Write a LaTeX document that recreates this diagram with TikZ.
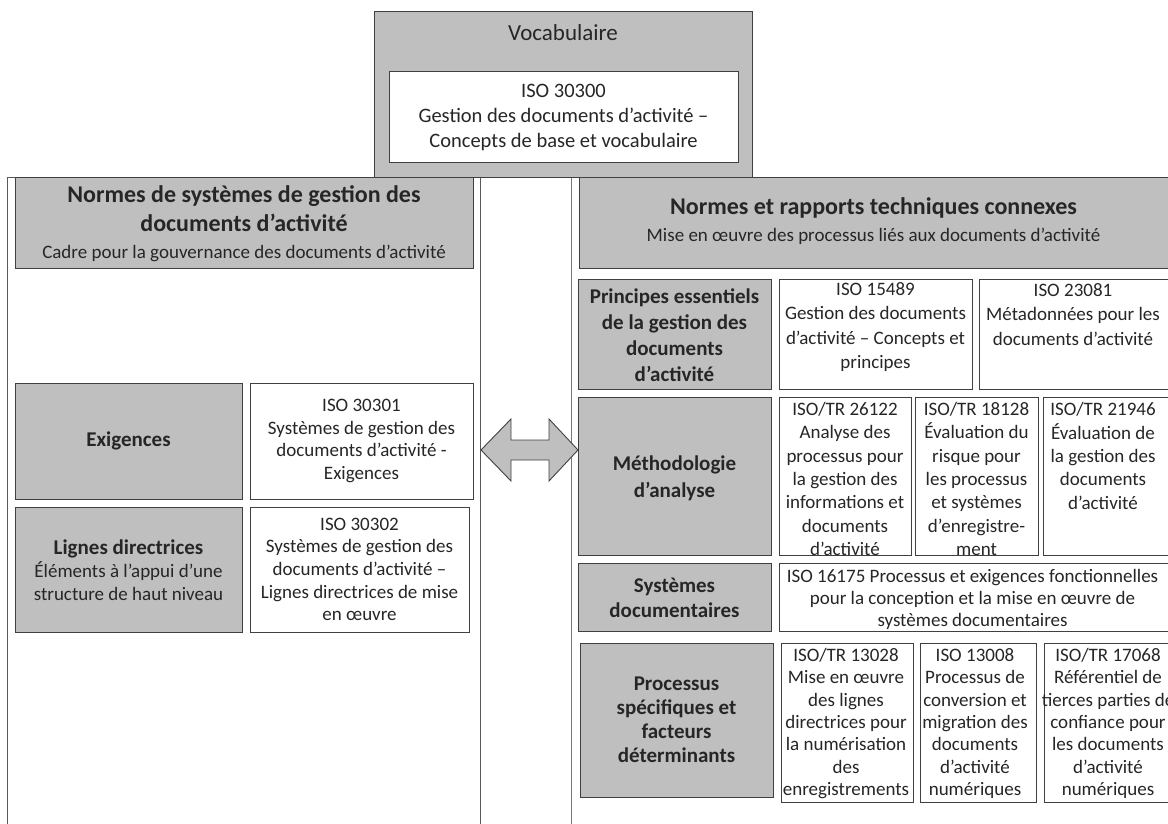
\documentclass[tikz,border=0pt]{standalone}
\usepackage{fontspec}
\setmainfont{Carlito}
\definecolor{boxgray}{RGB}{191,191,191}
\definecolor{linegray}{RGB}{64,64,64}
\definecolor{panelgray}{RGB}{120,120,120}
\tikzset{
  graybox/.style={fill=boxgray, draw=linegray, line width=0.9pt},
  whitebox/.style={fill=white, draw=linegray, line width=0.9pt},
  panel/.style={draw=panelgray, line width=0.9pt},
  bodytxt/.style={align=center, inner sep=0pt, text=black!85, font=\fontsize{19}{24}\selectfont},
  tighttxt/.style={bodytxt, font=\fontsize{19}{22.7}\selectfont},
  labeltxt/.style={align=center, inner sep=0pt, text=black!85, font=\bfseries\fontsize{21}{24}\selectfont},
  titletxt/.style={align=center, inner sep=0pt, text=black!85, font=\bfseries\fontsize{24}{28.7}\selectfont},
}
\begin{document}
\begin{tikzpicture}[x=1pt,y=-1pt]
  \useasboundingbox (0,0) rectangle (1168,824);
  \clip (0,0) rectangle (1168,824);
  % two panels
  \draw [panel, draw=black!65] (7.5,830) -- (7.5,177) -- (480,177) -- (480,830);
  \draw [panel] (571,830) -- (571,177) -- (1180,177);
  % vocabulaire
  \draw [graybox] (374,11) rectangle (752,177);
  \node [bodytxt, font=\fontsize{23}{26}\selectfont] (vocab) at (563,33) {Vocabulaire};
  \draw [whitebox] (389,71) rectangle (738,162);
  \node [bodytxt, font=\fontsize{20.5}{25}\selectfont] (iso30300) at (563.5,118)
    {ISO 30300\\Gestion des documents d’activité –\\Concepts de base et vocabulaire};
  % left panel
  \draw [graybox] (15,177) rectangle (473,268);
  \node [titletxt] (lefttitle) at (244,208.5) {Normes de systèmes de gestion des\\documents d’activité};
  \node [bodytxt] (leftsub) at (244,253) {Cadre pour la gouvernance des documents d’activité};
  \draw [graybox] (15,383) rectangle (242,499);
  \node [labeltxt] (exig) at (128.5,441) {Exigences};
  \draw [whitebox] (250,383) rectangle (473,499);
  \node [tighttxt] (iso30301) at (361.5,441)
    {ISO 30301\\Systèmes de gestion des\\documents d’activité -\\Exigences};
  \draw [graybox] (15,507) rectangle (242,632);
  \node [tighttxt] (lignes) at (128.5,570)
    {{\bfseries\fontsize{21}{23}\selectfont Lignes directrices}\\Éléments à l’appui d’une\\structure de haut niveau};
  \draw [whitebox] (250,507) rectangle (469,632);
  \node [tighttxt] (iso30302) at (359.5,569.5)
    {ISO 30302\\Systèmes de gestion des\\documents d’activité –\\Lignes directrices de mise\\en œuvre};
  % double arrow
  \draw [graybox] (481,450) -- (511,419) -- (511,440) -- (549,440) -- (549,419) -- (578,450)
    -- (549,481) -- (549,460) -- (511,460) -- (511,481) -- cycle;
  % right panel
  \draw [graybox] (579,177) rectangle (1170,268);
  \node [titletxt] (righttitle) at (873.5,208) {Normes et rapports techniques connexes};
  \node [bodytxt] (rightsub) at (873.5,236) {Mise en œuvre des processus liés aux documents d’activité};
  \draw [graybox] (578,279) rectangle (771,389);
  \node [labeltxt, font=\bfseries\fontsize{21}{26}\selectfont] (principes) at (674.5,335)
    {Principes essentiels\\de la gestion des\\documents\\d’activité};
  \draw [whitebox] (779,279) rectangle (972,389);
  \node [bodytxt, font=\fontsize{19}{24.5}\selectfont] (iso15489) at (875.5,327)
    {ISO 15489\\Gestion des documents\\d’activité – Concepts et\\principes};
  \draw [whitebox] (979,279) rectangle (1170,389);
  \node [bodytxt, font=\fontsize{19}{24.5}\selectfont] (iso23081) at (1073,314.5)
    {ISO 23081\\Métadonnées pour les\\documents d’activité};
  \draw [graybox] (578,397) rectangle (771,555);
  \node [labeltxt, font=\bfseries\fontsize{21}{27}\selectfont] (methodo) at (674.5,478) {Méthodologie\\d’analyse};
  \draw [whitebox] (779,397) rectangle (911,555);
  \node [bodytxt, font=\fontsize{19}{23.4}\selectfont] (iso26122) at (845,479)
    {ISO/TR 26122\\Analyse des\\processus pour\\la gestion des\\informations et\\documents\\d’activité};
  \draw [whitebox] (915,397) rectangle (1038,555);
  \node [bodytxt, font=\fontsize{19}{23.4}\selectfont] (iso18128) at (976.5,479)
    {ISO/TR 18128\\Évaluation du\\risque pour\\les processus\\et systèmes\\d’enregistre-\\ment};
  \draw [whitebox] (1043,397) rectangle (1170,555);
  \node [bodytxt, font=\fontsize{19}{23.4}\selectfont] (iso21946) at (1103,456)
    {ISO/TR 21946\\Évaluation de\\la gestion des\\documents\\d’activité};
  \draw [graybox] (578,563) rectangle (771,631);
  \node [labeltxt, font=\bfseries\fontsize{21}{25}\selectfont] (systemes) at (674.5,597.5) {Systèmes\\documentaires};
  \draw [whitebox] (779,563) rectangle (1170,631);
  \node [tighttxt, font=\fontsize{19}{22}\selectfont] (iso16175) at (972.5,599)
    {ISO 16175 Processus et exigences fonctionnelles\\pour la conception et la mise en œuvre de\\systèmes documentaires};
  \draw [graybox] (580,643) rectangle (773,797);
  \node [labeltxt] (processus) at (676.5,720) {Processus\\spécifiques et\\facteurs\\déterminants};
  \draw [whitebox] (781,643) rectangle (913,802);
  \node [tighttxt, font=\fontsize{19}{22.3}\selectfont] (iso13028) at (846,723.5)
    {ISO/TR 13028\\Mise en œuvre\\des lignes\\directrices pour\\la numérisation\\des\\enregistrements};
  \draw [whitebox] (920,643) rectangle (1036,802);
  \node [tighttxt, font=\fontsize{19}{22.3}\selectfont] (iso13008) at (975,723.5)
    {ISO 13008\\Processus de\\conversion et\\migration des\\documents\\d’activité\\numériques};
  \draw [whitebox] (1044,643) rectangle (1170,802);
  \node [tighttxt, font=\fontsize{19}{22.3}\selectfont] (iso17068) at (1108,723.5)
    {ISO/TR 17068\\Référentiel de\\tierces parties de\\confiance pour\\les documents\\d’activité\\numériques};
\end{tikzpicture}
\end{document}
